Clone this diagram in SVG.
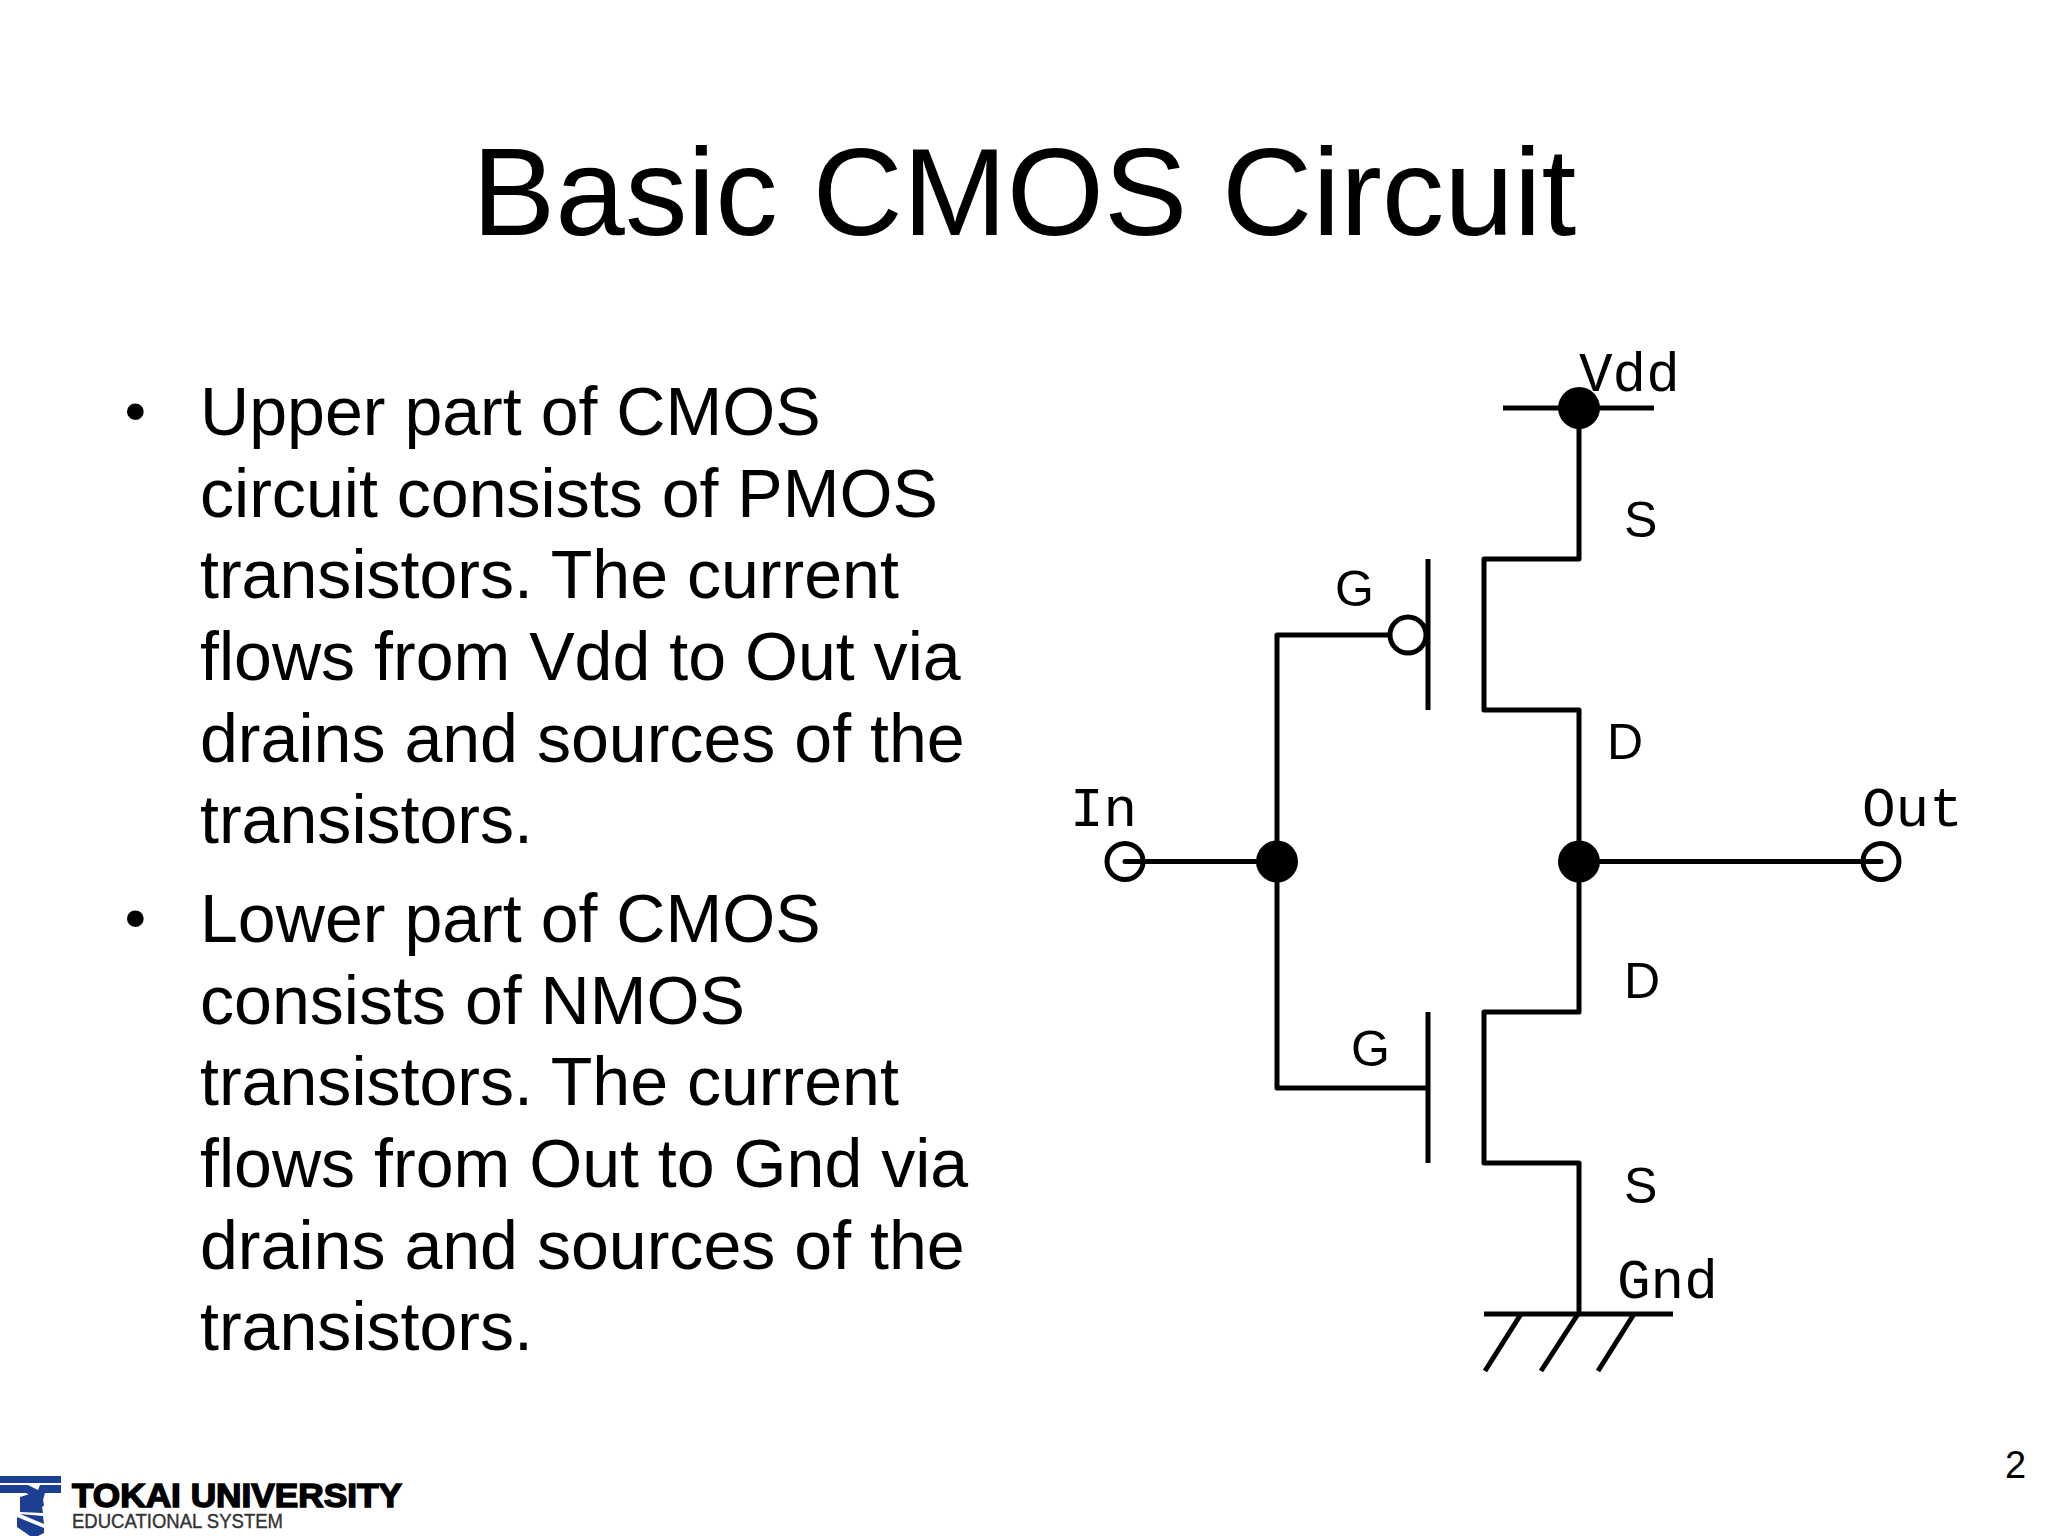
<svg xmlns="http://www.w3.org/2000/svg" width="2048" height="1536" viewBox="0 0 2048 1536">
<style>
text{font-family:"Liberation Sans",Arial,sans-serif;fill:#000}
.title{font-size:125px}
.body{font-size:68.1px}
.bul{font-size:62px}
.mono{font-family:"Liberation Mono","Courier New",monospace;font-size:56px}
.pin{font-size:50px}
.w{fill:none;stroke:#000;stroke-width:5;stroke-linecap:round;stroke-linejoin:round}
.t{fill:none;stroke:#000;stroke-width:5}
.dot{fill:#000}
.open{fill:#fff;stroke:#000;stroke-width:5}
.openn{fill:none;stroke:#000;stroke-width:5}
</style>
<rect width="2048" height="1536" fill="#fff"/>
<text class="title" x="472" y="235">Basic CMOS Circuit</text>
<g id="bullets">
<text class="bul" x="124.5" y="431.5">•</text>
<text class="body" x="200" y="435">Upper part of CMOS</text>
<text class="body" x="200" y="516.5">circuit consists of PMOS</text>
<text class="body" x="200" y="598">transistors. The current</text>
<text class="body" x="200" y="680">flows from Vdd to Out via</text>
<text class="body" x="200" y="761.5">drains and sources of the</text>
<text class="body" x="200" y="843">transistors.</text>
<text class="bul" x="124.5" y="939">•</text>
<text class="body" x="200" y="942">Lower part of CMOS</text>
<text class="body" x="200" y="1023.5">consists of NMOS</text>
<text class="body" x="200" y="1105">transistors. The current</text>
<text class="body" x="200" y="1187">flows from Out to Gnd via</text>
<text class="body" x="200" y="1268.5">drains and sources of the</text>
<text class="body" x="200" y="1350">transistors.</text>
</g>
<g id="connectors">
<path class="t" d="M1503 408H1654"/>
<path class="w" d="M1579 408V559H1484V710H1579V1012H1484V1163H1579V1314"/>
<path class="w" d="M1389 635H1277V1088H1427"/>
<path class="w" d="M1125 861.5H1277M1579 861.5H1881"/>
<path class="t" d="M1484 1314H1673"/>
<path class="t" d="M1521 1314L1485 1371M1578 1314L1541 1371M1634 1314L1598 1371"/>
</g>
<g id="pmos">
<path class="t" d="M1428 559V710"/>
<circle class="open" cx="1408" cy="635" r="18"/>
</g>
<g id="nmos">
<path class="t" d="M1428 1012V1163"/>
</g>
<g id="vdd-node"><circle class="dot" cx="1579" cy="408" r="21"/><text class="mono" x="1579" y="391">Vdd</text></g>
<g id="in-node"><circle class="openn" cx="1125" cy="861.5" r="18"/><text class="mono" x="1070" y="826">In</text></g>
<g id="in-junction"><circle class="dot" cx="1277" cy="861.5" r="21"/></g>
<g id="out-junction"><circle class="dot" cx="1579" cy="861.5" r="21"/></g>
<g id="out-node"><circle class="openn" cx="1881" cy="861.5" r="18"/><text class="mono" x="1862" y="826">Out</text></g>
<g id="gnd-node"><text class="mono" x="1617" y="1298">Gnd</text></g>
<g id="pins">
<text class="pin" x="1624" y="537">S</text>
<text class="pin" x="1335" y="605.5">G</text>
<text class="pin" x="1607" y="759">D</text>
<text class="pin" x="1624" y="998">D</text>
<text class="pin" x="1351" y="1066">G</text>
<text class="pin" x="1624" y="1203">S</text>
</g>
<text x="2005" y="1478" font-size="38">2</text>
<g id="logo">
<path fill="#1c3f94" d="M0 1476H61V1483H0ZM0 1485H28L38 1490L40 1485H61V1493H45L43 1500L37 1499L26 1493H0ZM20 1497L30 1494L43 1499L44 1506L32 1510L42 1506L43 1513L20 1512ZM17 1517L44 1528V1533L38 1536H30L17 1527ZM20 1514L43 1516L44 1524Z"/>
<text x="72" y="1507" font-size="34" font-weight="bold" stroke="#000" stroke-width="1.5" textLength="330" lengthAdjust="spacingAndGlyphs">TOKAI UNIVERSITY</text>
<text x="72" y="1528" font-size="20" style="fill:#333" stroke="#333" stroke-width=".4" textLength="211" lengthAdjust="spacingAndGlyphs">EDUCATIONAL SYSTEM</text>
</g>
</svg>
